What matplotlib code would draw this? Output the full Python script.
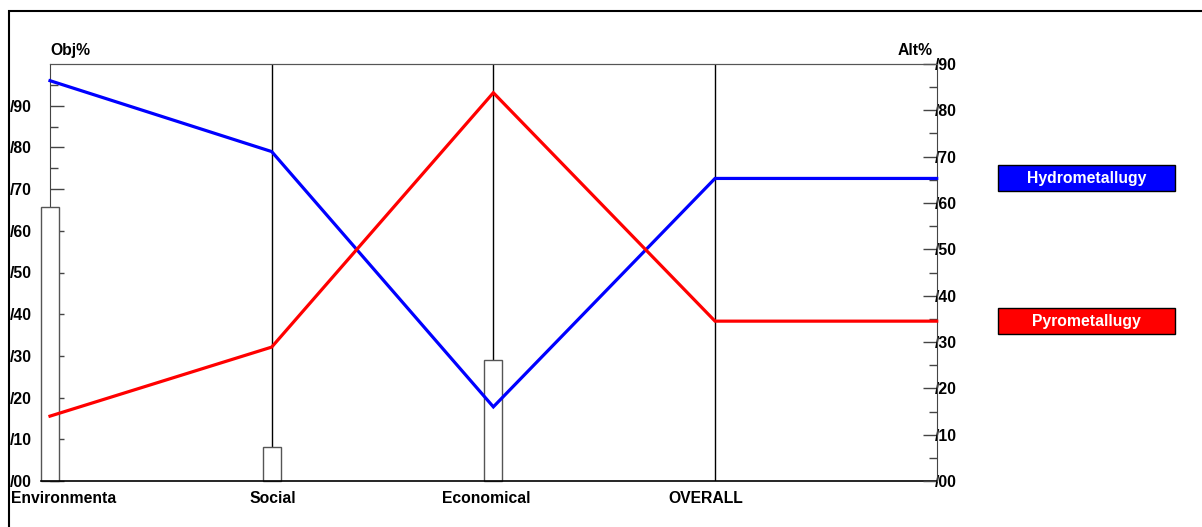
import numpy as np
import matplotlib.pyplot as plt
from matplotlib.patches import Rectangle

plt.rcParams['font.family'] = ['Liberation Sans', 'DejaVu Sans']
plt.rcParams['font.weight'] = 'bold'

# criteria and priorities (Obj%, left axis)
CRITERIA = ['Environmenta', 'Social', 'Economical', 'OVERALL']
OBJ_PCT = [65.8, 8.1, 28.9]

# alternative scores (Alt%, right axis)
ALTERNATIVES = ['Hydrometallugy', 'Pyrometallugy']
ALT_PCT = {
    'Hydrometallugy': [86.4, 71.1, 16.0, 65.3],
    'Pyrometallugy': [14.0, 28.9, 83.8, 34.5],
}
COLORS = {'Hydrometallugy': '#0000ff', 'Pyrometallugy': '#ff0000'}

OBJ_TICKS = np.arange(0, 91, 10)
ALT_TICKS = np.arange(0, 91, 10)

FS = 11.3

fig = plt.figure(figsize=(12.02, 5.27), dpi=100)
ax = fig.add_axes([50 / 1202, 1 - 481 / 527, 886.7 / 1202, 417 / 527])
ax2 = ax.twinx()

x = np.arange(len(CRITERIA))
xmax = len(CRITERIA)
ax.set_xlim(0, xmax)
ax.set_ylim(0, 100)
ax2.set_ylim(0, 90)

# criterion verticals
ax.vlines(x[1:], 0, 100, color='black', lw=1, zorder=1)

# objective bars (drawn over the left spine)
ax.bar(x[:len(OBJ_PCT)], OBJ_PCT, width=0.08, color='white', edgecolor='#555555', lw=1,
       zorder=3, clip_on=False)

# alternative lines, overall value carried to the right axis
for name in ALTERNATIVES:
    vals = ALT_PCT[name]
    ax2.plot(np.append(x, xmax), np.append(vals, vals[-1]), color=COLORS[name], lw=2.3,
             solid_joinstyle='miter', clip_on=False, zorder=3)
    # legend box next to the overall value
    ax2.add_patch(Rectangle((xmax + 0.276, vals[-1] - 2.8), 0.8, 5.6, fc=COLORS[name],
                            ec='black', lw=1, clip_on=False))
    ax2.text(xmax + 0.676, vals[-1], name, ha='center', va='center', color='white',
             fontsize=FS, fontweight='bold', clip_on=False)

# spines
for a in (ax, ax2):
    a.spines['bottom'].set_visible(False)
ax.spines['right'].set_visible(False)
ax2.spines['left'].set_visible(False)
ax.spines['left'].set_color('#444444')
ax2.spines['right'].set_color('#444444')
ax.spines['top'].set_color('#555555')
ax2.spines['top'].set_color('#555555')
ax.plot([-0.04, xmax], [0, 0], color='black', lw=1.2, zorder=4, clip_on=False)

ax.set_xticks([])
ax2.set_xticks([])

# left ticks
ax.set_yticks(OBJ_TICKS)
ax.set_yticklabels(['/%02d' % v for v in OBJ_TICKS])
ax.set_yticks(np.arange(5, 100, 10), minor=True)
ax.tick_params(axis='y', which='major', direction='in', length=10, width=1, color='#444444',
               labelsize=FS, pad=29)
ax.tick_params(axis='y', which='minor', direction='in', length=5.5, width=1, color='#444444')
for lab in ax.get_yticklabels():
    lab.set_horizontalalignment('left')
    lab.set_fontweight('bold')

# right ticks
ax2.set_yticks(ALT_TICKS)
ax2.set_yticklabels(['/%02d' % v for v in ALT_TICKS])
ax2.set_yticks(np.arange(5, 90, 10), minor=True)
ax2.tick_params(axis='y', which='major', direction='in', length=10, width=1, color='#444444',
                labelsize=FS, pad=-1)
ax2.tick_params(axis='y', which='minor', direction='in', length=5.5, width=1, color='#444444')
for lab in ax2.get_yticklabels():
    lab.set_fontweight('bold')

# category labels
offsets = [0.06, 0.005, -0.03, -0.04]
for i, name in enumerate(CRITERIA):
    ax.text(x[i] + offsets[i], -4.1, name, ha='center', va='center', fontsize=FS,
            fontweight='bold', clip_on=False)

ax.text(0, 103.2, 'Obj%', ha='left', va='center', fontsize=FS, fontweight='bold')
ax2.text(xmax - 0.02, 103.2 * 0.9, 'Alt%', ha='right', va='center', fontsize=FS,
         fontweight='bold')

# outer frame
fig.patches.append(Rectangle((9 / 1202, -0.1), 1.2, 1 - 10.5 / 527 + 0.1, transform=fig.transFigure,
                             fill=False, ec='black', lw=1.5))

fig.savefig('out.png', dpi=100)
